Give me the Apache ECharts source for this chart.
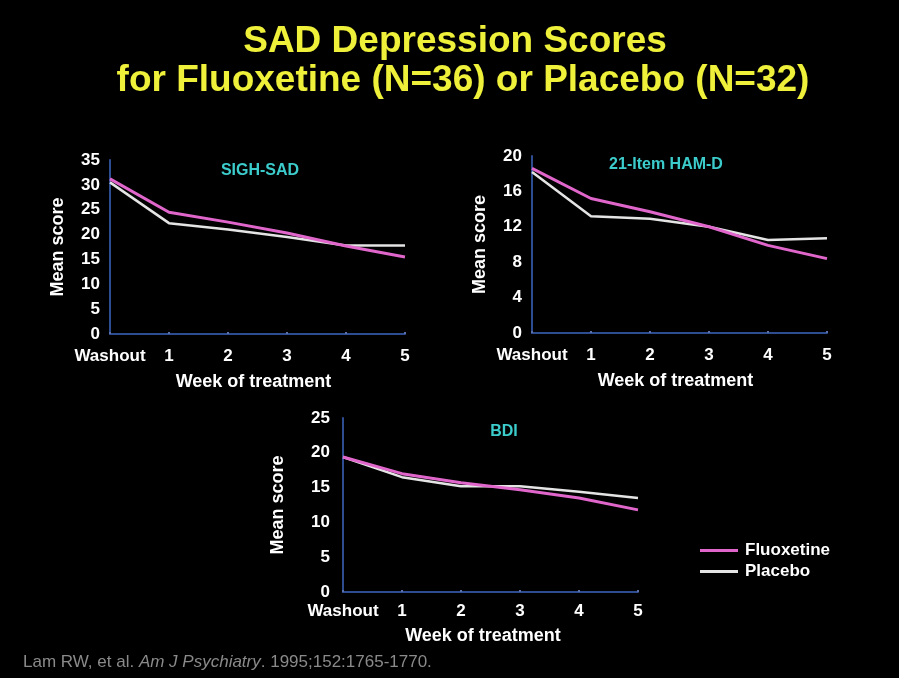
<!DOCTYPE html>
<html><head><meta charset="utf-8">
<script src="https://cdn.jsdelivr.net/npm/echarts@6/dist/echarts.min.js"></script>
<style>html,body{margin:0;padding:0;background:#000;}#c{width:899px;height:678px;}</style>
</head><body><div id="c"></div>
<script>
var weeks = ['Washout','1','2','3','4','5'];
var sighFluox = [31.2, 24.5, 22.5, 20.3, 17.7, 15.5];
var sighPlac  = [30.5, 22.3, 21.0, 19.5, 17.8, 17.8];
var hamFluox  = [18.6, 15.2, 13.7, 12.0, 9.9, 8.4];
var hamPlac   = [18.2, 13.2, 12.9, 12.0, 10.5, 10.7];
var bdiFluox  = [19.4, 17.0, 15.7, 14.7, 13.5, 11.8];
var bdiPlac   = [19.4, 16.5, 15.2, 15.2, 14.4, 13.5];
var panelNames = ['SIGH-SAD', '21-Item HAM-D', 'BDI'];
var yMax = [35, 20, 25];
var yStep = [5, 4, 5];

var FONT = '"Liberation Sans", Arial, sans-serif';
var PINK = '#e066cc', WHITE = '#e4e4e4', AXIS = '#2e4c90', CYAN = '#3ccccc';

var grids = [
  {left: 110, top: 160, width: 295, height: 174},
  {left: 532, top: 156, width: 295, height: 177},
  {left: 343, top: 418, width: 295, height: 174}
];
var xLabelMargin = [14, 14, 11];
var xNameGap = [39, 39, 35];
var xNamePad = [[0, 8, 0, 0], [0, 8, 0, 0], [0, 15, 0, 0]];
var yNameGap = [43, 43, 56];
var yLabelMargin = [10, 10, 13];

var xAxes = [], yAxes = [];
for (var i = 0; i < 3; i++) {
  xAxes.push({
    type: 'category', gridIndex: i, data: weeks, boundaryGap: false,
    name: 'Week of treatment', nameLocation: 'middle', nameGap: xNameGap[i],
    nameTextStyle: {color: '#fff', fontSize: 18, fontWeight: 'bold', fontFamily: FONT, padding: xNamePad[i]},
    axisLine: {lineStyle: {color: AXIS, width: 2}},
    axisTick: {show: true, interval: 0, length: 2, inside: true, lineStyle: {color: '#5a70a8', width: 2}},
    axisLabel: {interval: 0, hideOverlap: false, color: '#fff', fontSize: 17, fontWeight: 'bold', fontFamily: FONT, margin: xLabelMargin[i]},
    splitLine: {show: false}
  });
  yAxes.push({
    type: 'value', gridIndex: i, min: 0, max: yMax[i], interval: yStep[i],
    name: 'Mean score', nameLocation: 'middle', nameGap: yNameGap[i], nameRotate: 90,
    nameTextStyle: {color: '#fff', fontSize: 18, fontWeight: 'bold', fontFamily: FONT},
    axisLine: {show: true, lineStyle: {color: AXIS, width: 2}},
    axisTick: {show: false},
    axisLabel: {color: '#fff', fontSize: 17, fontWeight: 'bold', fontFamily: FONT, margin: yLabelMargin[i]},
    splitLine: {show: false}
  });
}

var plac = [sighPlac, hamPlac, bdiPlac];
var fluox = [sighFluox, hamFluox, bdiFluox];
var series = [];
for (var j = 0; j < 3; j++) {
  series.push({name: 'Placebo', type: 'line', xAxisIndex: j, yAxisIndex: j, data: plac[j],
    showSymbol: false, lineStyle: {color: WHITE, width: 2.5}, itemStyle: {color: WHITE}, z: 2});
  series.push({name: 'Fluoxetine', type: 'line', xAxisIndex: j, yAxisIndex: j, data: fluox[j],
    showSymbol: false, lineStyle: {color: PINK, width: 3}, itemStyle: {color: PINK}, z: 3});
}

var chart = echarts.init(document.getElementById('c'), null, {renderer: 'canvas'});
chart.setOption({
  backgroundColor: '#000',
  animation: false,
  grid: grids,
  xAxis: xAxes,
  yAxis: yAxes,
  series: series,
  legend: {
    data: ['Fluoxetine', 'Placebo'], orient: 'vertical', left: 695, top: 537,
    icon: 'rect', itemWidth: 38, itemHeight: 3, itemGap: 4,
    textStyle: {color: '#fff', fontSize: 17, fontWeight: 'bold', fontFamily: FONT, padding: [0, 0, 0, 2]},
    selectedMode: false
  },
  graphic: [
    {type: 'text', x: 455, y: 23, style: {text: 'SAD Depression Scores', fill: '#eef03a', font: 'bold 37px ' + FONT, textAlign: 'center', textVerticalAlign: 'top'}},
    {type: 'text', x: 463, y: 62, style: {text: 'for Fluoxetine (N=36) or Placebo (N=32)', fill: '#eef03a', font: 'bold 37px ' + FONT, textAlign: 'center', textVerticalAlign: 'top'}},
    {type: 'text', x: 260, y: 171, style: {text: panelNames[0], fill: CYAN, font: 'bold 16px ' + FONT, textAlign: 'center', textVerticalAlign: 'middle'}},
    {type: 'text', x: 666, y: 165, style: {text: panelNames[1], fill: CYAN, font: 'bold 16px ' + FONT, textAlign: 'center', textVerticalAlign: 'middle'}},
    {type: 'text', x: 504, y: 432, style: {text: panelNames[2], fill: CYAN, font: 'bold 16px ' + FONT, textAlign: 'center', textVerticalAlign: 'middle'}},
    {type: 'text', x: 23, y: 662, style: {
      text: '{n|Lam RW, et al. }{i|Am J Psychiatry}{n|. 1995;152:1765-1770.}',
      textVerticalAlign: 'middle',
      rich: {
        n: {fill: '#8a8a8a', font: '17px ' + FONT},
        i: {fill: '#8a8a8a', font: 'italic 17px ' + FONT}
      }
    }}
  ]
});
</script>
</body></html>
